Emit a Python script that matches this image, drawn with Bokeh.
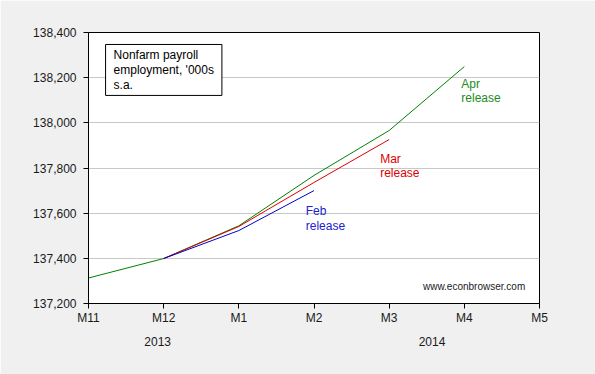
from bokeh.plotting import figure
from bokeh.models import (Range1d, FixedTicker, NumeralTickFormatter, LinearAxis, Label)
from bokeh.embed import file_html
from bokeh.resources import INLINE

# ---- data ----
months = ["M11", "M12", "M1", "M2", "M3", "M4", "M5"]
years = ["2013", "2014"]
year_pos = [0.92, 4.57]

apr_x = [0, 1, 2, 3, 4, 5]
apr_release = [137313, 137399, 137544, 137767, 137966, 138249]
mar_x = [1, 2, 3, 4]
mar_release = [137399, 137541, 137736, 137926]
feb_x = [1, 2, 3]
feb_release = [137399, 137523, 137700]

y_ticks = [137200, 137400, 137600, 137800, 138000, 138200, 138400]

FONT = "Liberation Sans"
BG = "#f0f0f0"

p = figure(frame_width=451, frame_height=271, output_backend="svg", toolbar_location=None,
           x_range=Range1d(0, 6), y_range=Range1d(137200, 138400),
           min_border_left=88, min_border_right=56, min_border_top=32, min_border_bottom=71,
           background_fill_color="white", border_fill_color=BG,
           outline_line_color="black", outline_line_width=1)

p.line(apr_x, apr_release, line_color="#008000", line_width=1)
p.line(mar_x, mar_release, line_color="#dd0000", line_width=1)
p.line(feb_x, feb_release, line_color="#0000cc", line_width=1)

# axes
xa = p.xaxis[0]
xa.ticker = FixedTicker(ticks=list(range(len(months))))
xa.major_label_overrides = {i: m for i, m in enumerate(months)}
ya = p.yaxis[0]
ya.ticker = FixedTicker(ticks=y_ticks)
ya.formatter = NumeralTickFormatter(format="0,0")
for ax in (xa, ya):
    ax.major_tick_in = 0
    ax.major_tick_out = 5
    ax.minor_tick_line_color = None
    ax.axis_line_color = "black"
    ax.major_tick_line_color = "black"
    ax.major_label_text_font = FONT
    ax.major_label_text_font_size = "12px"
    ax.major_label_text_color = "#1a1a1a"
xa.major_label_standoff = 2
ya.major_label_standoff = 7

year_axis = LinearAxis(ticker=FixedTicker(ticks=year_pos),
                       major_label_overrides={pos: y for pos, y in zip(year_pos, years)},
                       axis_line_color=None, major_tick_line_color=None,
                       minor_tick_line_color=None, major_label_standoff=3,
                       major_label_text_font=FONT, major_label_text_font_size="12px",
                       major_label_text_color="#1a1a1a")
p.add_layout(year_axis, "below")

p.xgrid.grid_line_color = None
p.ygrid.grid_line_color = "#c8c8c8"
p.ygrid.ticker = FixedTicker(ticks=y_ticks)

# annotations
p.add_layout(Label(x=0.227, y=138347, text="Nonfarm payroll\nemployment, '000s\ns.a.",
                   anchor="top_left", text_font=FONT, text_font_size="12px",
                   text_color="black", text_line_height=1.07,
                   border_line_color="black", border_line_width=1,
                   background_fill_color="white",
                   padding=dict(left=8, right=8, top=4, bottom=3)))

p.add_layout(Label(x=4.96, y=138205, text="Apr\nrelease", anchor="top_left",
                   text_font=FONT, text_font_size="12px", text_color="#228b22",
                   text_line_height=1.04))
p.add_layout(Label(x=3.88, y=137873, text="Mar\nrelease", anchor="top_left",
                   text_font=FONT, text_font_size="12px", text_color="#dd0000",
                   text_line_height=1.04))
p.add_layout(Label(x=2.89, y=137639, text="Feb\nrelease", anchor="top_left",
                   text_font=FONT, text_font_size="12px", text_color="#2020cc",
                   text_line_height=1.04))
p.add_layout(Label(x=5.81, y=137250, text="www.econbrowser.com", anchor="bottom_right",
                   text_font=FONT, text_font_size="10px", text_color="#1a1a1a"))

open("out.html", "w").write(file_html(p, INLINE))
